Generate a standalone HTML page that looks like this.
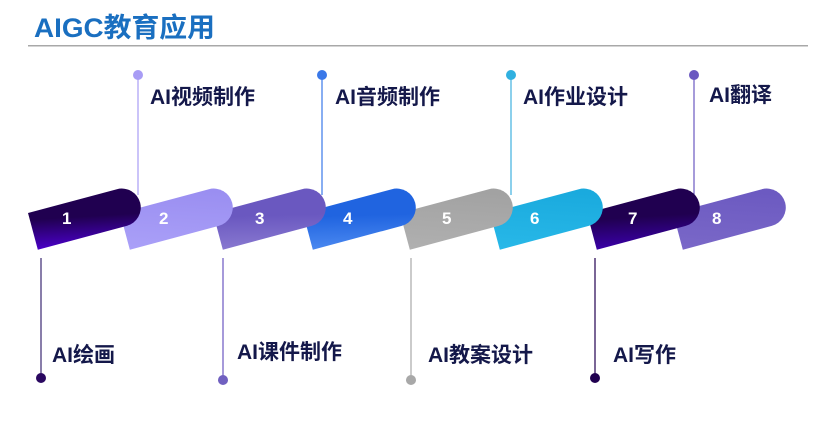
<!DOCTYPE html>
<html><head><meta charset="utf-8"><style>
html,body{margin:0;padding:0;background:#fff;width:823px;height:433px;overflow:hidden}
svg{display:block}
.t{font-family:"Liberation Sans","Noto Sans CJK SC",sans-serif;font-weight:bold;font-size:21px;fill:#14184a}
.n{font-family:"Liberation Sans",sans-serif;font-weight:bold;font-size:17px;fill:#fff}
</style></head><body>
<svg width="823" height="433" viewBox="0 0 823 433">
<defs>
<linearGradient id="g1" x1="0" y1="1" x2="0.6" y2="0"><stop offset="0" stop-color="#4a00c8"/><stop offset="0.6" stop-color="#200050"/></linearGradient>
<linearGradient id="g2" x1="0" y1="1" x2="1" y2="0"><stop offset="0" stop-color="#aaa0f8"/><stop offset="1" stop-color="#988cf0"/></linearGradient>
<linearGradient id="g3" x1="0" y1="1" x2="0.7" y2="0"><stop offset="0" stop-color="#8878d0"/><stop offset="0.6" stop-color="#6a58c0"/></linearGradient>
<linearGradient id="g4" x1="0" y1="1" x2="0.7" y2="0"><stop offset="0" stop-color="#4a88f0"/><stop offset="0.6" stop-color="#2064e0"/></linearGradient>
<linearGradient id="g5" x1="0" y1="1" x2="1" y2="0"><stop offset="0" stop-color="#b0b0b0"/><stop offset="1" stop-color="#a0a0a0"/></linearGradient>
<linearGradient id="g6" x1="0" y1="1" x2="1" y2="0"><stop offset="0" stop-color="#28b8e8"/><stop offset="1" stop-color="#18a8dc"/></linearGradient>
<linearGradient id="g7" x1="0" y1="1" x2="0.6" y2="0"><stop offset="0" stop-color="#3a00a8"/><stop offset="0.6" stop-color="#200050"/></linearGradient>
<linearGradient id="g8" x1="0" y1="1" x2="1" y2="0"><stop offset="0" stop-color="#7a68c8"/><stop offset="1" stop-color="#6a58c0"/></linearGradient>
<path id="s" d="M0 0 L92 0 A19 19 0 0 1 92 38 L0 38 Z"/>
</defs>
<text x="34" y="37" textLength="181" lengthAdjust="spacingAndGlyphs" style="font-family:'Liberation Sans','Noto Sans CJK SC',sans-serif;font-weight:bold;font-size:27px;fill:#1a6fc0">AIGC教育应用</text>
<rect x="28" y="45" width="780" height="1.5" fill="#a8a8a8"/>
<g stroke-width="1.2">
<line x1="138" y1="75" x2="138" y2="195" stroke="#a89cf5"/>
<line x1="322" y1="75" x2="322" y2="195" stroke="#3a78e8"/>
<line x1="511" y1="75" x2="511" y2="195" stroke="#40b0e0"/>
<line x1="694" y1="75" x2="694" y2="195" stroke="#6a58c0"/>
<line x1="41" y1="258" x2="41" y2="378" stroke="#3a2870"/>
<line x1="223" y1="258" x2="223" y2="380" stroke="#6a58c0"/>
<line x1="411" y1="258" x2="411" y2="380" stroke="#a8a8a8"/>
<line x1="595" y1="258" x2="595" y2="378" stroke="#200050"/>
</g>
<circle cx="138" cy="75" r="5" fill="#a89cf5"/>
<circle cx="322" cy="75" r="5" fill="#3a78e8"/>
<circle cx="511" cy="75" r="5" fill="#30b0e0"/>
<circle cx="694" cy="75" r="5" fill="#6a58c0"/>
<circle cx="41" cy="378" r="5" fill="#2a0860"/>
<circle cx="223" cy="380" r="5" fill="#7060c0"/>
<circle cx="411" cy="380" r="5" fill="#a8a8a8"/>
<circle cx="595" cy="378" r="5" fill="#200050"/>
<use href="#s" transform="translate(673,213) rotate(-15)" fill="url(#g8)"/>
<use href="#s" transform="translate(587,213) rotate(-15)" fill="url(#g7)"/>
<use href="#s" transform="translate(490,213) rotate(-15)" fill="url(#g6)"/>
<use href="#s" transform="translate(400,213) rotate(-15)" fill="url(#g5)"/>
<use href="#s" transform="translate(303,213) rotate(-15)" fill="url(#g4)"/>
<use href="#s" transform="translate(213,213) rotate(-15)" fill="url(#g3)"/>
<use href="#s" transform="translate(120,213) rotate(-15)" fill="url(#g2)"/>
<use href="#s" transform="translate(28,213) rotate(-15)" fill="url(#g1)"/>
<text class="n" x="62" y="224">1</text>
<text class="n" x="159" y="224">2</text>
<text class="n" x="255" y="224">3</text>
<text class="n" x="343" y="224">4</text>
<text class="n" x="442" y="224">5</text>
<text class="n" x="530" y="224">6</text>
<text class="n" x="628" y="224">7</text>
<text class="n" x="712" y="224">8</text>
<text class="t" x="150" y="104">AI视频制作</text>
<text class="t" x="335" y="104">AI音频制作</text>
<text class="t" x="523" y="104">AI作业设计</text>
<text class="t" x="709" y="102">AI翻译</text>
<text class="t" x="52" y="362">AI绘画</text>
<text class="t" x="237" y="359">AI课件制作</text>
<text class="t" x="428" y="362">AI教案设计</text>
<text class="t" x="613" y="362">AI写作</text>
</svg>
</body></html>
